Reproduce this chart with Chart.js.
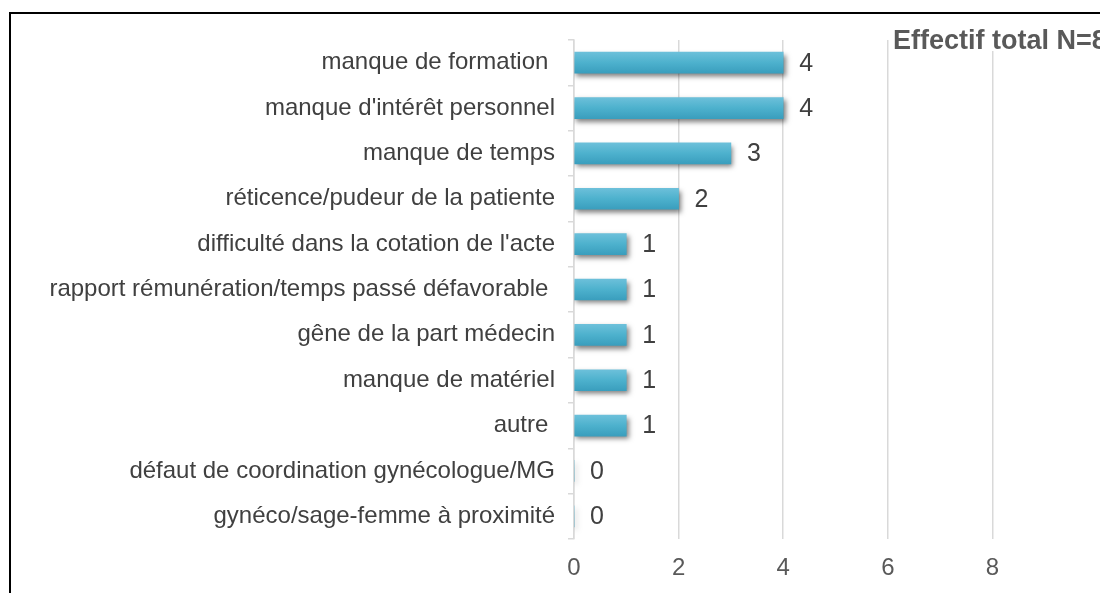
<!DOCTYPE html>
<html>
<head>
<meta charset="utf-8">
<script src="https://cdn.jsdelivr.net/npm/chart.js@4.4.1/dist/chart.umd.min.js"></script>
<style>
  html, body { margin: 0; padding: 0; background: #fff; overflow: hidden; width: 1100px; height: 593px; }
  #wrap { position: absolute; left: 0; top: 0; width: 1100px; height: 593px; overflow: hidden; }
  #frame { position: absolute; left: 9px; top: 12px; width: 1200px; height: 700px; border-top: 2px solid #000; border-left: 2px solid #000; pointer-events: none; }
  #note { position: absolute; left: 890px; top: 27px; padding-left: 3px; height: 24px; background: #fff; white-space: nowrap;
          font: bold 27px "Liberation Sans", Arial, sans-serif; color: #595959; line-height: 26px; }
</style>
</head>
<body>
<div id="wrap">
  <canvas id="c" width="1100" height="593"></canvas>
  <div id="frame"></div>
  <div id="note">Effectif total N=8</div>
</div>
<script>
const categories = [
  "manque de formation ",
  "manque d'intérêt personnel",
  "manque de temps",
  "réticence/pudeur de la patiente",
  "difficulté dans la cotation de l'acte",
  "rapport rémunération/temps passé défavorable ",
  "gêne de la part médecin",
  "manque de matériel",
  "autre ",
  "défaut de coordination gynécologue/MG",
  "gynéco/sage-femme à proximité"
];
const values = [4, 4, 3, 2, 1, 1, 1, 1, 1, 0, 0];
const xTicks = [0, 2, 4, 6, 8];

const FONT = '"Liberation Sans", Arial, sans-serif';
const BAR_T = 21;

const shadowPlugin = {
  id: 'barShadow',
  beforeDatasetDraw(chart) {
    const ctx = chart.ctx;
    ctx.save();
    ctx.shadowColor = 'rgba(0,0,0,0.5)';
    ctx.shadowBlur = 5;
    ctx.shadowOffsetX = 2;
    ctx.shadowOffsetY = 3;
  },
  afterDatasetDraw(chart) {
    chart.ctx.restore();
  }
};

const labelPlugin = {
  id: 'valueLabels',
  afterDatasetsDraw(chart) {
    const ctx = chart.ctx;
    const meta = chart.getDatasetMeta(0);
    ctx.save();
    ctx.font = '25px ' + FONT;
    ctx.fillStyle = '#404040';
    ctx.textAlign = 'left';
    ctx.textBaseline = 'middle';
    meta.data.forEach((bar, i) => {
      ctx.fillText(String(values[i]), bar.x + 16, bar.y + 1);
    });
    ctx.restore();
  }
};

new Chart(document.getElementById('c'), {
  type: 'bar',
  data: {
    labels: categories,
    datasets: [{
      data: values,
      barThickness: BAR_T,
      borderWidth: 0,
      backgroundColor: (c) => {
        const chart = c.chart;
        const ys = chart.scales && chart.scales.y;
        if (!ys || c.dataIndex === undefined) return '#4BACC6';
        const y = ys.getPixelForTick(c.dataIndex);
        if (!isFinite(y)) return '#4BACC6';
        const g = chart.ctx.createLinearGradient(0, y - BAR_T / 2, 0, y + BAR_T / 2);
        g.addColorStop(0, '#6cc0da');
        g.addColorStop(0.5, '#4db1cd');
        g.addColorStop(1, '#3a9ebd');
        return g;
      }
    }]
  },
  options: {
    indexAxis: 'y',
    responsive: false,
    animation: false,
    events: [],
    layout: { padding: { left: 0, right: 3, top: 40, bottom: 0 } },
    plugins: {
      legend: { display: false },
      tooltip: { enabled: false },
      title: { display: false }
    },
    scales: {
      x: {
        min: 0,
        max: 10,
        afterBuildTicks: (s) => { s.ticks = xTicks.concat([10]).map(v => ({ value: v })); },
        afterFit: (s) => { s.height = 54; s.paddingLeft = 0; s.paddingRight = 0; },
        grid: {
          color: (c) => (c.tick && c.tick.value === 10) ? 'rgba(0,0,0,0)' : '#d9d9d9',
          lineWidth: 1.5,
          drawTicks: false
        },
        border: { display: false },
        ticks: {
          padding: 15,
          color: '#595959',
          font: { family: FONT, size: 24 },
          maxRotation: 0,
          callback: (v) => xTicks.includes(v) ? String(v) : ''
        }
      },
      y: {
        afterFit: (s) => { s.width = 574; s.paddingTop = 0; s.paddingBottom = 0; },
        grid: {
          offset: true,
          drawOnChartArea: false,
          drawTicks: true,
          tickLength: 6,
          color: '#d9d9d9',
          lineWidth: 1.5
        },
        border: { display: true, color: '#d9d9d9', width: 1.5 },
        ticks: {
          padding: 13,
          color: '#404040',
          font: { family: FONT, size: 24 },
          autoSkip: false
        }
      }
    }
  },
  plugins: [shadowPlugin, labelPlugin]
});
</script>
</body>
</html>
